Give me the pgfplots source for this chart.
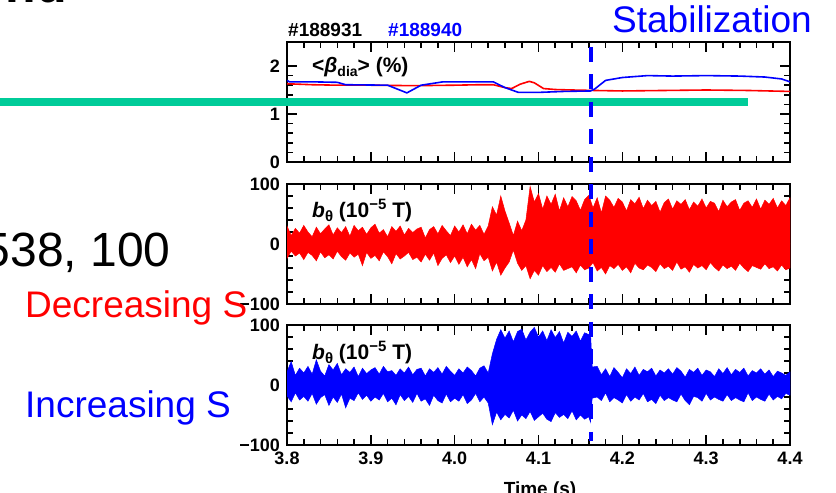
\documentclass[border=0pt]{standalone}
\usepackage{fontspec}
\setmainfont{Liberation Sans}
\usepackage{pgfplots}
\pgfplotsset{compat=1.18}
\definecolor{myblue}{RGB}{0,0,255}
\definecolor{myred}{RGB}{255,0,0}
\definecolor{mygreen}{RGB}{0,204,153}
\pgfplotsset{
  panel/.style={
    scale only axis, width=503pt, height=120pt,
    anchor=south west,
    xmin=3.8, xmax=4.4,
    xtick={3.8,3.9,4.0,4.1,4.2,4.3,4.4},
    minor x tick num=4, minor y tick num=4,
    tick align=inside,
    major tick length=10pt, minor tick length=6pt,
    tick style={black, line width=1.6pt},
    axis line style={line width=2.6pt},
    xticklabels={},
    yticklabel style={font=\fontsize{18}{18}\selectfont\bfseries, anchor=east, inner sep=0pt, xshift=-7pt},
    xticklabel style={font=\fontsize{18}{18}\selectfont\bfseries, anchor=north, inner sep=0pt, yshift=-7pt},
  }
}
\begin{document}
\begin{tikzpicture}
\useasboundingbox (0pt,0pt) rectangle (836pt,493pt);
\clip (0pt,0pt) rectangle (836pt,493pt);

% Panel 1: beta_dia
\begin{axis}[panel, at={(287pt,331pt)}, ymin=0, ymax=2.5, ytick={0,1,2}, yticklabels={0,1,2}]
\addplot[myred, line width=1.6pt] coordinates {(3.800,1.63)(3.830,1.61)(3.860,1.60)(3.900,1.60)(3.950,1.59)(4.000,1.60)(4.030,1.61)(4.046,1.61)(4.060,1.55)(4.068,1.53)(4.078,1.62)(4.089,1.68)(4.095,1.65)(4.106,1.53)(4.120,1.51)(4.140,1.50)(4.167,1.49)(4.200,1.48)(4.250,1.49)(4.300,1.50)(4.350,1.49)(4.400,1.47)};
\addplot[myblue, line width=1.6pt] coordinates {(3.800,1.70)(3.803,1.67)(3.830,1.67)(3.860,1.66)(3.870,1.61)(3.920,1.60)(3.943,1.44)(3.960,1.60)(3.986,1.67)(4.020,1.67)(4.046,1.67)(4.060,1.55)(4.076,1.45)(4.100,1.45)(4.130,1.47)(4.162,1.48)(4.167,1.52)(4.180,1.70)(4.200,1.76)(4.230,1.80)(4.260,1.79)(4.300,1.80)(4.340,1.79)(4.370,1.77)(4.390,1.73)(4.400,1.67)};
\end{axis}

% Panel 2: b_theta #188931 (upper and lower envelopes, each filled to zero)
\begin{axis}[panel, at={(287pt,189pt)}, ymin=-100, ymax=100, ytick={-100,0,100}, yticklabels={−100,0,100}]
\addplot[myred, fill=myred, line width=0.5pt] coordinates {(3.800,30)(3.805,14)(3.810,26)(3.815,18)(3.820,31)(3.825,20)(3.830,12)(3.835,28)(3.840,17)(3.845,25)(3.850,32)(3.855,15)(3.860,27)(3.865,19)(3.870,29)(3.875,13)(3.880,31)(3.885,22)(3.890,28)(3.895,16)(3.900,27)(3.905,33)(3.910,18)(3.915,24)(3.920,12)(3.925,29)(3.930,21)(3.935,30)(3.940,15)(3.945,26)(3.950,19)(3.955,25)(3.960,28)(3.965,10)(3.970,24)(3.975,29)(3.980,17)(3.985,31)(3.990,22)(3.995,14)(4.000,30)(4.005,20)(4.010,32)(4.015,17)(4.020,33)(4.025,23)(4.030,31)(4.035,16)(4.040,30)(4.045,62)(4.050,48)(4.055,80)(4.060,55)(4.065,35)(4.070,14)(4.075,38)(4.080,22)(4.085,40)(4.090,96)(4.095,70)(4.100,84)(4.105,58)(4.110,80)(4.115,66)(4.120,83)(4.125,55)(4.130,77)(4.135,62)(4.140,79)(4.145,72)(4.150,56)(4.155,74)(4.160,81)(4.165,60)(4.170,77)(4.175,52)(4.180,80)(4.185,73)(4.190,61)(4.195,76)(4.200,70)(4.205,55)(4.210,74)(4.215,67)(4.220,78)(4.225,59)(4.230,73)(4.235,64)(4.240,71)(4.245,53)(4.250,69)(4.255,75)(4.260,58)(4.265,72)(4.270,66)(4.275,74)(4.280,57)(4.285,70)(4.290,63)(4.295,75)(4.300,60)(4.305,71)(4.310,68)(4.315,54)(4.320,73)(4.325,62)(4.330,70)(4.335,74)(4.340,56)(4.345,68)(4.350,72)(4.355,61)(4.360,75)(4.365,58)(4.370,73)(4.375,66)(4.380,76)(4.385,60)(4.390,72)(4.395,64)(4.400,77)} \closedcycle;
\addplot[myred, fill=myred, line width=0.5pt] coordinates {(3.800,-24)(3.805,-12)(3.810,-20)(3.815,-15)(3.820,-26)(3.825,-14)(3.830,-19)(3.835,-28)(3.840,-13)(3.845,-23)(3.850,-18)(3.855,-25)(3.860,-12)(3.865,-21)(3.870,-27)(3.875,-15)(3.880,-22)(3.885,-17)(3.890,-36)(3.895,-14)(3.900,-24)(3.905,-19)(3.910,-28)(3.915,-13)(3.920,-21)(3.925,-33)(3.930,-16)(3.935,-25)(3.940,-20)(3.945,-14)(3.950,-26)(3.955,-22)(3.960,-30)(3.965,-17)(3.970,-27)(3.975,-15)(3.980,-36)(3.985,-24)(3.990,-18)(3.995,-31)(4.000,-20)(4.005,-34)(4.010,-22)(4.015,-38)(4.020,-26)(4.025,-41)(4.030,-16)(4.035,-28)(4.040,-22)(4.045,-45)(4.050,-30)(4.055,-52)(4.060,-40)(4.065,-30)(4.070,-10)(4.075,-32)(4.080,-44)(4.085,-36)(4.090,-58)(4.095,-44)(4.100,-52)(4.105,-36)(4.110,-46)(4.115,-39)(4.120,-47)(4.125,-33)(4.130,-44)(4.135,-41)(4.140,-38)(4.145,-48)(4.150,-35)(4.155,-43)(4.160,-40)(4.165,-31)(4.170,-45)(4.175,-39)(4.180,-50)(4.185,-36)(4.190,-41)(4.195,-34)(4.200,-44)(4.205,-38)(4.210,-48)(4.215,-32)(4.220,-40)(4.225,-43)(4.230,-35)(4.235,-39)(4.240,-46)(4.245,-33)(4.250,-41)(4.255,-37)(4.260,-44)(4.265,-30)(4.270,-42)(4.275,-38)(4.280,-47)(4.285,-34)(4.290,-40)(4.295,-36)(4.300,-43)(4.305,-31)(4.310,-39)(4.315,-45)(4.320,-35)(4.325,-41)(4.330,-37)(4.335,-44)(4.340,-32)(4.345,-40)(4.350,-46)(4.355,-36)(4.360,-39)(4.365,-42)(4.370,-33)(4.375,-41)(4.380,-38)(4.385,-45)(4.390,-35)(4.395,-43)(4.400,-40)} \closedcycle;
\end{axis}

% Panel 3: b_theta #188940
\begin{axis}[panel, at={(287pt,48pt)}, ymin=-100, ymax=100, ytick={-100,0,100}, yticklabels={−100,0,100}, xticklabels={3.8,3.9,4.0,4.1,4.2,4.3,4.4}]
\addplot[myblue, fill=myblue, line width=0.5pt] coordinates {(3.800,22)(3.805,39)(3.810,16)(3.815,28)(3.820,20)(3.825,31)(3.830,18)(3.835,42)(3.840,23)(3.845,15)(3.850,34)(3.855,25)(3.860,36)(3.865,17)(3.870,27)(3.875,21)(3.880,30)(3.885,14)(3.890,28)(3.895,19)(3.900,25)(3.905,29)(3.910,18)(3.915,31)(3.920,22)(3.925,24)(3.930,16)(3.935,27)(3.940,20)(3.945,30)(3.950,17)(3.955,26)(3.960,28)(3.965,15)(3.970,27)(3.975,21)(3.980,29)(3.985,18)(3.990,31)(3.995,23)(4.000,16)(4.005,27)(4.010,20)(4.015,30)(4.020,24)(4.025,15)(4.030,28)(4.035,32)(4.040,20)(4.045,52)(4.050,76)(4.055,92)(4.060,78)(4.065,90)(4.070,72)(4.075,89)(4.080,93)(4.085,75)(4.090,88)(4.095,96)(4.100,80)(4.105,90)(4.110,74)(4.115,92)(4.120,79)(4.125,89)(4.130,70)(4.135,88)(4.140,81)(4.145,90)(4.150,73)(4.155,87)(4.160,84)(4.162,88)(4.164,30)(4.170,31)(4.175,17)(4.180,27)(4.185,14)(4.190,29)(4.195,21)(4.200,12)(4.205,27)(4.210,19)(4.215,30)(4.220,16)(4.225,26)(4.230,22)(4.235,28)(4.240,15)(4.245,25)(4.250,20)(4.255,27)(4.260,18)(4.265,29)(4.270,23)(4.275,13)(4.280,26)(4.285,21)(4.290,28)(4.295,16)(4.300,25)(4.305,22)(4.310,14)(4.315,27)(4.320,19)(4.325,29)(4.330,17)(4.335,26)(4.340,21)(4.345,28)(4.350,15)(4.355,24)(4.360,20)(4.365,27)(4.370,18)(4.375,25)(4.380,14)(4.385,23)(4.390,20)(4.395,16)(4.400,22)} \closedcycle;
\addplot[myblue, fill=myblue, line width=0.5pt] coordinates {(3.800,-18)(3.805,-28)(3.810,-13)(3.815,-25)(3.820,-19)(3.825,-27)(3.830,-14)(3.835,-32)(3.840,-21)(3.845,-16)(3.850,-34)(3.855,-20)(3.860,-29)(3.865,-15)(3.870,-38)(3.875,-22)(3.880,-26)(3.885,-13)(3.890,-24)(3.895,-17)(3.900,-27)(3.905,-20)(3.910,-25)(3.915,-14)(3.920,-28)(3.925,-22)(3.930,-33)(3.935,-16)(3.940,-26)(3.945,-19)(3.950,-29)(3.955,-14)(3.960,-27)(3.965,-23)(3.970,-34)(3.975,-17)(3.980,-26)(3.985,-30)(3.990,-15)(3.995,-28)(4.000,-22)(4.005,-27)(4.010,-16)(4.015,-31)(4.020,-25)(4.025,-14)(4.030,-28)(4.035,-20)(4.040,-30)(4.045,-66)(4.050,-45)(4.055,-58)(4.060,-49)(4.065,-55)(4.070,-42)(4.075,-60)(4.080,-50)(4.085,-56)(4.090,-44)(4.095,-59)(4.100,-53)(4.105,-47)(4.110,-57)(4.115,-61)(4.120,-46)(4.125,-54)(4.130,-49)(4.135,-56)(4.140,-43)(4.145,-58)(4.150,-50)(4.155,-57)(4.160,-53)(4.162,-62)(4.164,-22)(4.170,-20)(4.175,-26)(4.180,-13)(4.185,-28)(4.190,-21)(4.195,-25)(4.200,-30)(4.205,-16)(4.210,-27)(4.215,-20)(4.220,-25)(4.225,-14)(4.230,-28)(4.235,-24)(4.240,-31)(4.245,-17)(4.250,-26)(4.255,-21)(4.260,-25)(4.265,-28)(4.270,-15)(4.275,-26)(4.280,-33)(4.285,-19)(4.290,-21)(4.295,-27)(4.300,-14)(4.305,-25)(4.310,-20)(4.315,-24)(4.320,-27)(4.325,-16)(4.330,-26)(4.335,-21)(4.340,-25)(4.345,-28)(4.350,-13)(4.355,-26)(4.360,-20)(4.365,-24)(4.370,-27)(4.375,-15)(4.380,-25)(4.385,-19)(4.390,-23)(4.395,-14)(4.400,-17)} \closedcycle;
\end{axis}

% panel labels
\node[anchor=base west, inner sep=0pt, font=\fontsize{21}{21}\selectfont\bfseries] at (312pt,420pt) {<\textit{β}\raisebox{-4pt}{\fontsize{14}{14}\selectfont dia}> (\%)};
\node[anchor=base west, inner sep=0pt, font=\fontsize{21}{21}\selectfont\bfseries] at (312pt,275pt) {\textit{b}\raisebox{-4pt}{\fontsize{15}{15}\selectfont θ} (10\raisebox{8pt}{\fontsize{15}{15}\selectfont −5} T)};
\node[anchor=base west, inner sep=0pt, font=\fontsize{21}{21}\selectfont\bfseries] at (312pt,133pt) {\textit{b}\raisebox{-4pt}{\fontsize{15}{15}\selectfont θ} (10\raisebox{8pt}{\fontsize{15}{15}\selectfont −5} T)};
\node[anchor=base, inner sep=0pt, font=\fontsize{19}{19}\selectfont\bfseries] at (540pt,-2pt) {Time (s)};

% shot numbers and slide texts
\node[anchor=base west, inner sep=0pt, font=\fontsize{19}{19}\selectfont\bfseries] at (288pt,456pt) {\#188931};
\node[anchor=base west, inner sep=0pt, text=myblue, font=\fontsize{19}{19}\selectfont\bfseries] at (388pt,456pt) {\#188940};
\node[anchor=base west, inner sep=0pt, text=myblue, font=\fontsize{37}{37}\selectfont] at (612pt,460pt) {Stabilization};
\node[anchor=base west, inner sep=0pt, font=\fontsize{48}{48}\selectfont] at (-16.5pt,226pt) {538, 100};
\node[anchor=base west, inner sep=0pt, text=myred, font=\fontsize{37}{37}\selectfont] at (25pt,175pt) {Decreasing S};
\node[anchor=base west, inner sep=0pt, text=myblue, font=\fontsize{37}{37}\selectfont] at (25pt,75pt) {Increasing S};
\node[anchor=base east, inner sep=0pt, font=\fontsize{50}{50}\selectfont\bfseries] at (67pt,490pt) {nd};

% green bar and dashed marker
\draw[mygreen, line width=8pt] (0pt,391pt) -- (748pt,391pt);
\draw[myblue, line width=4pt, dash pattern=on 15pt off 12.5pt] (591.3pt,446pt) -- (591.3pt,52pt);
\end{tikzpicture}
\end{document}
